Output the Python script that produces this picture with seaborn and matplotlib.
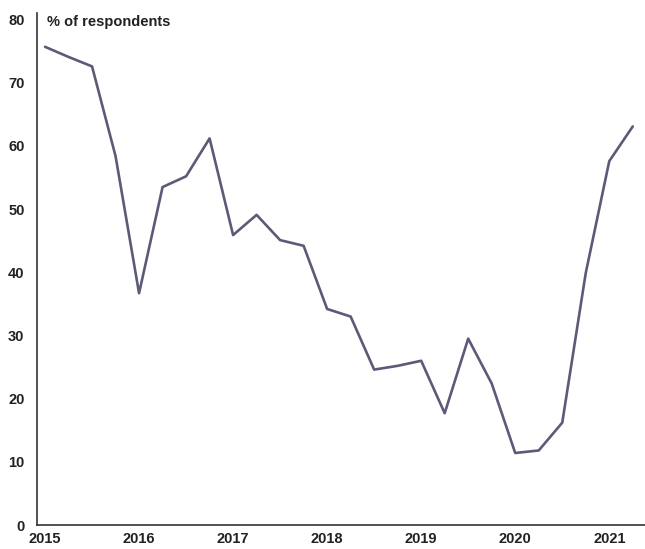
import matplotlib
matplotlib.use("Agg")
import matplotlib.pyplot as plt
import pandas as pd
import seaborn as sns

# quarterly survey readings, Q1 2015 .. Q2 2021
quarters = [
    2015.0, 2015.25, 2015.5, 2015.75,
    2016.0, 2016.25, 2016.5, 2016.75,
    2017.0, 2017.25, 2017.5, 2017.75,
    2018.0, 2018.25, 2018.5, 2018.75,
    2019.0, 2019.25, 2019.5, 2019.75,
    2020.0, 2020.25, 2020.5, 2020.75,
    2021.0, 2021.25,
]
share = [
    75.7, 74.1, 72.6, 58.4,
    36.7, 53.5, 55.2, 61.2,
    45.9, 49.1, 45.1, 44.2,
    34.2, 33.0, 24.6, 25.2,
    26.0, 17.7, 29.5, 22.4,
    11.4, 11.8, 16.2, 39.9,
    57.6, 63.1,
]
year_ticks = [2015, 2016, 2017, 2018, 2019, 2020, 2021]
y_ticks = [0, 10, 20, 30, 40, 50, 60, 70, 80]

df = pd.DataFrame({"quarter": quarters, "share": share})

sns.set_theme(style="white")
plt.rcParams["font.family"] = ["Liberation Sans Narrow", "Liberation Sans", "DejaVu Sans"]
plt.rcParams["font.weight"] = "bold"

fig = plt.figure(figsize=(6.45, 5.49), dpi=100)
ax = fig.add_axes([0.0574, 0.0437, 0.9426, 0.932])

sns.lineplot(data=df, x="quarter", y="share", ax=ax, color="#5b5b78", linewidth=1.9)

ax.set_xlim(2014.915, 2021.38)
ax.set_ylim(0, 81)
ax.set_xticks(year_ticks)
ax.set_xticklabels([str(y) for y in year_ticks])
ax.set_yticks(y_ticks)
ax.set_xlabel("")
ax.set_ylabel("")
ax.tick_params(axis="both", length=0, labelsize=10.5, colors="#222222")
ax.tick_params(axis="y", pad=9)
ax.tick_params(axis="x", pad=5)

for side in ["top", "right"]:
    ax.spines[side].set_visible(False)
for side in ["left", "bottom"]:
    ax.spines[side].set_color("#333333")
    ax.spines[side].set_linewidth(1.2)

ax.text(2015.02, 79.6, "% of respondents", fontsize=10.5, fontweight="bold",
        color="#222222", ha="left", va="center")

fig.savefig("out.png", dpi=100)
